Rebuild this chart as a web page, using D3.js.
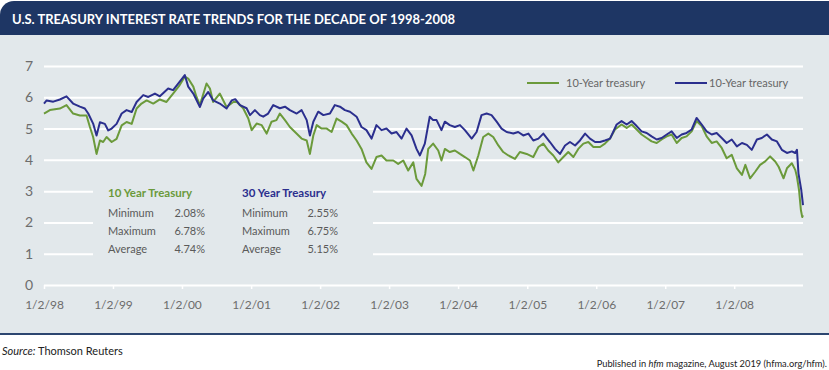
<!DOCTYPE html>
<html>
<head>
<meta charset="utf-8">
<script src="https://cdn.jsdelivr.net/npm/d3@7"></script>
<style>
  html, body { margin: 0; padding: 0; background: #fff; }
  svg { display: block; font-family: Lato, "Open Sans", sans-serif; }
</style>
</head>
<body>
<svg id="chart" width="829" height="370"></svg>
<script>
// 10-year treasury
const tenYearDates = [
  '1998-01-02','1998-02-02','1998-03-27','1998-05-01','1998-06-05','1998-07-11','1998-08-15','1998-09-02',
  '1998-09-19','1998-10-07','1998-10-25','1998-11-11','1998-11-29','1998-12-26','1999-01-21','1999-02-17',
  '1999-03-15','1999-04-11','1999-05-07','1999-06-02','1999-06-29','1999-08-03','1999-09-07','1999-10-12',
  '1999-11-16','1999-12-21','2000-01-17','2000-02-04','2000-03-02','2000-03-19','2000-04-06','2000-05-11',
  '2000-05-29','2000-06-15','2000-07-20','2000-08-25','2000-09-30','2000-10-17','2000-11-21','2000-12-18',
  '2001-01-05','2001-01-31','2001-02-27','2001-03-25','2001-04-20','2001-05-16','2001-06-03','2001-06-30',
  '2001-07-26','2001-08-22','2001-09-26','2001-10-23','2001-11-09','2001-11-27','2001-12-15','2002-01-10',
  '2002-02-06','2002-03-04','2002-03-30','2002-04-26','2002-05-22','2002-06-18','2002-07-14','2002-08-09',
  '2002-09-04','2002-10-01','2002-10-27','2002-11-23','2002-12-19','2003-01-24','2003-02-19','2003-03-18',
  '2003-04-13','2003-05-10','2003-05-27','2003-06-23','2003-07-12','2003-07-28','2003-08-23','2003-09-19',
  '2003-10-06','2003-10-24','2003-11-19','2003-12-16','2004-01-12','2004-02-07','2004-03-05','2004-03-23',
  '2004-04-18','2004-05-14','2004-06-10','2004-07-06','2004-08-02','2004-08-28','2004-09-24','2004-10-29',
  '2004-11-24','2004-12-30','2005-02-03','2005-03-02','2005-03-28','2005-04-23','2005-05-20','2005-06-15',
  '2005-07-12','2005-08-07','2005-09-03','2005-09-29','2005-10-26','2005-11-21','2005-12-18','2006-01-22',
  '2006-02-17','2006-03-16','2006-04-11','2006-05-16','2006-06-12','2006-07-08','2006-08-04','2006-08-30',
  '2006-09-26','2006-10-22','2006-11-18','2006-12-14','2007-01-10','2007-02-05','2007-03-04','2007-03-30',
  '2007-04-25','2007-05-22','2007-06-17','2007-07-14','2007-08-09','2007-09-05','2007-10-01','2007-10-28',
  '2007-11-23','2007-12-20','2008-01-16','2008-02-12','2008-03-01','2008-03-26','2008-04-22','2008-05-18',
  '2008-06-14','2008-07-10','2008-08-06','2008-08-24','2008-09-19','2008-10-07','2008-11-02','2008-11-20',
  '2008-11-29','2008-12-10','2008-12-20','2008-12-27','2008-12-31'
];
const tenYearRates = [
  5.48,5.59,5.64,5.75,5.48,5.42,5.42,5.05,
  4.73,4.19,4.62,4.57,4.73,4.57,4.67,5.10,
  5.21,5.15,5.64,5.80,5.90,5.80,5.93,5.85,
  6.12,6.39,6.66,6.60,6.34,6.01,5.75,6.44,
  6.28,5.85,6.12,5.69,5.85,5.86,5.65,5.32,
  4.95,5.16,5.11,4.84,5.22,5.27,5.48,5.27,
  5.05,4.89,4.68,4.62,4.19,4.78,5.11,5.00,
  5.00,4.89,5.32,5.22,5.11,4.84,4.62,4.35,
  3.92,3.71,4.09,4.14,3.98,3.98,3.87,3.98,
  3.66,3.92,3.39,3.17,3.55,4.35,4.52,4.30,
  3.98,4.35,4.25,4.30,4.19,4.09,3.98,3.66,
  4.14,4.73,4.84,4.73,4.46,4.25,4.14,4.03,
  4.25,4.19,4.09,4.41,4.52,4.30,4.14,3.92,
  4.09,4.25,4.09,4.35,4.52,4.57,4.41,4.41,
  4.52,4.68,4.97,5.13,5.02,5.13,4.97,4.81,
  4.70,4.59,4.54,4.65,4.75,4.81,4.54,4.70,
  4.75,4.91,5.24,5.08,4.75,4.54,4.59,4.38,
  4.05,4.16,3.73,3.52,3.84,3.41,3.62,3.84,
  3.95,4.11,3.95,3.78,3.41,3.73,3.89,3.68,
  3.46,3.03,2.39,2.17,2.23
];

// 30-year treasury
const thirtyYearDates = [
  '1998-01-02','1998-01-16','1998-02-20','1998-03-27','1998-05-01','1998-06-05','1998-07-11','1998-08-06',
  '1998-08-24','1998-09-19','1998-10-07','1998-10-25','1998-11-20','1998-12-08','1998-12-26','1999-01-21',
  '1999-02-17','1999-03-15','1999-04-11','1999-05-07','1999-06-11','1999-07-08','1999-08-12','1999-09-07',
  '1999-10-21','1999-11-16','1999-12-13','2000-01-17','2000-02-04','2000-03-02','2000-04-06','2000-04-23',
  '2000-05-20','2000-06-15','2000-07-20','2000-08-25','2000-09-21','2000-10-10','2000-11-04','2000-12-09',
  '2000-12-27','2001-01-22','2001-02-17','2001-03-07','2001-04-02','2001-04-29','2001-06-03','2001-06-30',
  '2001-07-26','2001-08-31','2001-09-26','2001-10-23','2001-11-09','2001-11-27','2001-12-23','2002-01-19',
  '2002-02-23','2002-03-21','2002-04-17','2002-05-13','2002-06-09','2002-07-14','2002-08-09','2002-09-04',
  '2002-10-01','2002-10-27','2002-11-23','2002-12-19','2003-01-15','2003-02-10','2003-03-09','2003-04-04',
  '2003-05-01','2003-05-27','2003-06-14','2003-07-10','2003-08-05','2003-08-23','2003-09-10','2003-10-06',
  '2003-10-24','2003-11-19','2003-12-16','2004-01-12','2004-02-07','2004-03-14','2004-04-09','2004-05-05',
  '2004-06-01','2004-06-27','2004-07-24','2004-08-19','2004-09-15','2004-10-20','2004-11-15','2004-12-12',
  '2005-01-08','2005-02-03','2005-03-02','2005-03-28','2005-05-02','2005-05-29','2005-06-24','2005-07-21',
  '2005-08-16','2005-09-12','2005-10-08','2005-11-04','2005-11-30','2005-12-27','2006-01-22','2006-02-17',
  '2006-03-16','2006-04-20','2006-05-16','2006-06-12','2006-07-08','2006-08-04','2006-08-30','2006-09-26',
  '2006-10-22','2006-11-18','2006-12-14','2007-01-10','2007-02-05','2007-03-04','2007-03-30','2007-04-25',
  '2007-05-22','2007-06-17','2007-07-14','2007-08-09','2007-09-05','2007-10-01','2007-10-28','2007-11-23',
  '2007-12-20','2008-01-16','2008-02-12','2008-03-09','2008-04-04','2008-05-01','2008-05-27','2008-06-23',
  '2008-07-19','2008-08-15','2008-09-10','2008-10-07','2008-11-02','2008-11-20','2008-11-29','2008-12-07',
  '2008-12-22','2008-12-31'
];
const thirtyYearRates = [
  5.80,5.90,5.86,5.93,6.03,5.80,5.70,5.64,
  5.48,5.16,4.78,5.20,5.15,4.94,5.00,5.15,
  5.48,5.59,5.53,5.85,6.07,6.01,6.12,6.03,
  6.28,6.23,6.44,6.71,6.34,6.12,5.69,5.96,
  6.17,5.90,5.80,5.64,5.90,5.94,5.75,5.65,
  5.43,5.59,5.43,5.38,5.48,5.75,5.65,5.70,
  5.59,5.48,5.59,5.27,4.78,5.22,5.54,5.43,
  5.48,5.75,5.70,5.59,5.54,5.38,5.05,4.95,
  4.68,5.11,4.95,5.00,4.84,4.89,4.68,5.00,
  4.78,4.35,4.14,4.52,5.38,5.27,5.27,4.95,
  5.22,5.11,5.05,5.11,4.95,4.68,4.89,5.43,
  5.48,5.43,5.22,5.00,4.89,4.84,4.89,4.78,
  4.84,4.62,4.68,4.84,4.57,4.35,4.19,4.46,
  4.57,4.46,4.62,4.84,4.68,4.57,4.57,4.62,
  4.68,5.13,5.24,5.13,5.24,5.08,4.91,4.86,
  4.75,4.65,4.70,4.81,4.91,4.70,4.81,4.86,
  4.97,5.34,5.13,4.91,4.81,4.86,4.70,4.54,
  4.65,4.43,4.54,4.48,4.32,4.65,4.70,4.81,
  4.65,4.59,4.32,4.22,4.27,4.22,4.32,3.57,
  3.03,2.55
];

const yTicks = [0, 1, 2, 3, 4, 5, 6, 7];
const xTickDates = ['1998-01-02','1999-01-02','2000-01-02','2001-01-02','2002-01-02','2003-01-02',
  '2004-01-02','2005-01-02','2006-01-02','2007-01-02','2008-01-02'];
const legendLabels = ['10-Year treasury', '10-Year treasury'];
const statLabels = ['Minimum', 'Maximum', 'Average'];
const tenYearStats = ['2.08%', '6.78%', '4.74%'];
const thirtyYearStats = ['2.55%', '6.75%', '5.15%'];

const GREEN = '#6b9a3b';
const BLUE = '#2b2f8e';

const svg = d3.select('#chart');
const W = 829;

// header bar + panel
svg.append('path')
  .attr('d', 'M0,35 V15 A14,14 0 0 1 14,1 H829 V35 Z')
  .attr('fill', '#1e3664');
svg.append('text')
  .attr('x', 12).attr('y', 23.5)
  .attr('fill', '#fff')
  .attr('font-size', 14)
  .attr('font-weight', 700)
  .attr('textLength', 443)
  .attr('lengthAdjust', 'spacingAndGlyphs')
  .text('U.S. TREASURY INTEREST RATE TRENDS FOR THE DECADE OF 1998-2008');
svg.append('rect')
  .attr('x', 0).attr('y', 35).attr('width', W).attr('height', 298)
  .attr('fill', '#e2e8eb');
svg.append('line')
  .attr('x1', 0).attr('x2', W).attr('y1', 334).attr('y2', 334)
  .attr('stroke', '#2c4670').attr('stroke-width', 2);

const parse = d3.timeParse('%Y-%m-%d');
const ten = tenYearDates.map((d, i) => ({ date: parse(d), value: tenYearRates[i] }));
const thirty = thirtyYearDates.map((d, i) => ({ date: parse(d), value: thirtyYearRates[i] }));

const x = d3.scaleTime()
  .domain([parse('1998-01-02'), parse('2008-12-31')])
  .range([44, 803]);
const y = d3.scaleLinear().domain([0, 7]).range([285, 66]);

// gridlines via y axis
const yAxis = svg.append('g')
  .attr('transform', 'translate(44,0)')
  .call(d3.axisLeft(y).tickValues(yTicks).tickSize(-759).tickPadding(11).tickFormat(d3.format('d')));
yAxis.select('.domain').remove();
yAxis.selectAll('line').attr('stroke', '#fff').attr('stroke-width', 2);
yAxis.selectAll('text').attr('fill', '#6d6d6d').attr('font-size', 14).attr('font-family', 'Lato, sans-serif');

const xAxis = svg.append('g')
  .attr('transform', 'translate(0,285)')
  .call(d3.axisBottom(x).tickValues(xTickDates.map(parse)).tickSize(4).tickPadding(11)
    .tickFormat(d3.timeFormat('%-m/%-d/%y')));
xAxis.select('.domain').remove();
xAxis.selectAll('line').attr('stroke', '#fff').attr('stroke-width', 1.5);
xAxis.selectAll('text').attr('fill', '#6d6d6d').attr('font-size', 12).attr('font-family', 'Lato, sans-serif');

// stats box hides gridlines behind it
svg.append('rect')
  .attr('x', 93).attr('y', 176).attr('width', 280).attr('height', 92)
  .attr('fill', '#e2e8eb');

const line = d3.line()
  .x(d => x(d.date))
  .y(d => y(d.value));

svg.append('path').datum(ten)
  .attr('fill', 'none').attr('stroke', GREEN).attr('stroke-width', 2)
  .attr('stroke-linejoin', 'round')
  .attr('d', line);
svg.append('path').datum(thirty)
  .attr('fill', 'none').attr('stroke', BLUE).attr('stroke-width', 2)
  .attr('stroke-linejoin', 'round')
  .attr('d', line);

// legend
const legend = svg.append('g').attr('font-size', 11).attr('fill', '#666');
[[527, GREEN], [675, BLUE]].forEach(([lx, c], i) => {
  legend.append('line')
    .attr('x1', lx).attr('x2', lx + 32).attr('y1', 83).attr('y2', 83)
    .attr('stroke', c).attr('stroke-width', 2);
  legend.append('text')
    .attr('x', lx + (i === 0 ? 39 : 34)).attr('y', 87)
    .text(legendLabels[i]);
});

// stats
const stats = svg.append('g').attr('font-size', 11);
[[108, 205, GREEN, '10 Year Treasury', tenYearStats],
 [242, 338, BLUE, '30 Year Treasury', thirtyYearStats]].forEach(([lx, rx, c, head, vals]) => {
  stats.append('text')
    .attr('x', lx).attr('y', 197)
    .attr('fill', c).attr('font-weight', 700).attr('font-size', 11.5)
    .text(head);
  statLabels.forEach((lab, i) => {
    stats.append('text')
      .attr('x', lx).attr('y', 217 + i * 18.2)
      .attr('fill', '#5a5a5a')
      .text(lab);
    stats.append('text')
      .attr('x', rx).attr('y', 217 + i * 18.2)
      .attr('text-anchor', 'end')
      .attr('fill', '#5a5a5a')
      .text(vals[i]);
  });
});

// footer
const src = svg.append('text').attr('x', 2).attr('y', 355).attr('font-size', 11).attr('fill', '#222');
src.append('tspan').attr('font-style', 'italic').text('Source:');
src.append('tspan').text(' Thomson Reuters');

const pub = svg.append('text')
  .attr('x', 827).attr('y', 367).attr('text-anchor', 'end')
  .attr('font-size', 9.3).attr('fill', '#222');
pub.append('tspan').text('Published in ');
pub.append('tspan').attr('font-style', 'italic').text('hfm');
pub.append('tspan').text(' magazine, August 2019 (hfma.org/hfm).');
</script>
</body>
</html>
